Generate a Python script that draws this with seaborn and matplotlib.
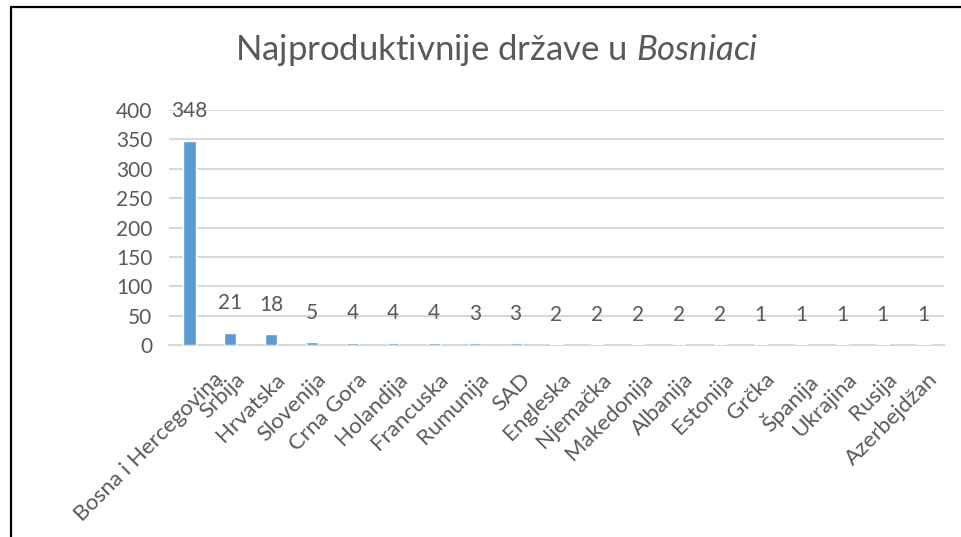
import matplotlib
matplotlib.use("Agg")
import matplotlib.pyplot as plt
import seaborn as sns
import pandas as pd
from matplotlib.lines import Line2D
from matplotlib.transforms import offset_copy

countries = ["Bosna i Hercegovina", "Srbija", "Hrvatska", "Slovenija", "Crna Gora",
             "Holandija", "Francuska", "Rumunija", "SAD", "Engleska", "Njemačka",
             "Makedonija", "Albanija", "Estonija", "Grčka", "Španija", "Ukrajina",
             "Rusija", "Azerbejdžan"]
values = [348, 21, 18, 5, 4, 4, 4, 3, 3, 2, 2, 2, 2, 2, 1, 1, 1, 1, 1]
yticks = [0, 50, 100, 150, 200, 250, 300, 350, 400]
title_main = "Najproduktivnije države u "
title_it = "Bosniaci"

sns.set_theme(style="white")
plt.rcParams["font.family"] = ["Lato", "DejaVu Sans"]
plt.rcParams["mathtext.fontset"] = "custom"
plt.rcParams["mathtext.rm"] = "Lato"
plt.rcParams["mathtext.it"] = "Lato:italic"

W, H = 962, 537
fig = plt.figure(figsize=(W / 100, H / 100), dpi=100)
ax = fig.add_axes([169 / W, 1 - 345 / H, (944 - 169) / W, (345 - 110) / H])

df = pd.DataFrame({"country": countries, "value": values})
sns.barplot(data=df, x="country", y="value", color="#5b9bd5", width=0.3,
            saturation=1, ax=ax, zorder=3)

txt_col = "#595959"
ax.set_ylim(0, 400)
ax.set_yticks(yticks)
ax.set_xlim(-0.5, len(countries) - 0.5)
ax.yaxis.grid(True, color="#d9d9d9", lw=1.5, zorder=0)
ax.set_axisbelow(True)
for s in ["top", "right", "left"]:
    ax.spines[s].set_visible(False)
ax.spines["bottom"].set_color("#d9d9d9")
ax.spines["bottom"].set_linewidth(1.5)
ax.tick_params(axis="both", length=0, labelsize=15, colors=txt_col)
ax.tick_params(axis="x", labelsize=16)
ax.tick_params(axis="y", pad=12)
ax.set_xlabel("")
ax.set_ylabel("")
ax.set_xticks(range(len(countries)))
ax.set_xticklabels(countries, rotation=45, ha="right", rotation_mode="anchor")
for i, lab in enumerate(ax.get_xticklabels()):
    dx = 17 if i == 0 else 3
    lab.set_transform(offset_copy(lab.get_transform(), fig=fig, x=dx, y=-14, units="points"))

for i, v in enumerate(values):
    ax.annotate(str(v), (i, v), xytext=(0, 21), textcoords="offset points",
                ha="center", va="center", fontsize=15, color=txt_col, zorder=4)

fig.text(497 / W, 1 - 50 / H, title_main + "$\\mathit{" + title_it + "}$",
         ha="center", va="center", fontsize=25, color=txt_col)

# chart frame (top and left edges visible)
fig.add_artist(Line2D([11 / W, 1], [1 - 7 / H, 1 - 7 / H], transform=fig.transFigure,
                      color="black", lw=1.6))
fig.add_artist(Line2D([11 / W, 11 / W], [0, 1 - 7 / H], transform=fig.transFigure,
                      color="black", lw=1.6))

fig.savefig("out.png", dpi=100)
